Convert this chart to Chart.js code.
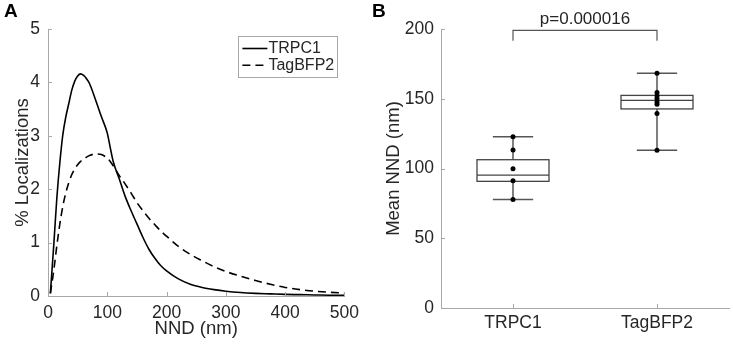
<!DOCTYPE html>
<html>
<head>
<meta charset="utf-8">
<script src="https://cdn.jsdelivr.net/npm/chart.js@4/dist/chart.umd.min.js"></script>
<style>
  html, body { margin: 0; padding: 0; background: #fff; }
  #wrap { position: relative; width: 733px; height: 348px; overflow: hidden; }
  .panel { position: absolute; top: 0; height: 348px; }
  .letter { position: absolute; top: 0px; font: bold 19px "Liberation Sans", Arial, sans-serif; color: #000; }
</style>
</head>
<body>
<div id="wrap">
  <div class="panel" style="left:0;width:366px"><canvas id="cA" width="366" height="348"></canvas></div>
  <div class="panel" style="left:366px;width:367px"><canvas id="cB" width="367" height="348"></canvas></div>
  <div class="letter" style="left:4px">A</div>
  <div class="letter" style="left:372px">B</div>
</div>
<script>
// ---------- Panel A data ----------
const nnd = [4,10,15,20,25,30,35,40,45,50,55,60,65,70,80,90,100,105,110,120,130,140,150,160,170,180,190,200,220,240,260,280,300,325,350,375,400,425,450,475,500];
const trpc1Curve = [0.05,1.0,1.85,2.5,3.02,3.35,3.6,3.85,4.02,4.12,4.16,4.13,4.07,3.98,3.68,3.36,3.05,2.78,2.52,2.2,1.87,1.6,1.35,1.1,0.88,0.71,0.57,0.47,0.32,0.22,0.16,0.12,0.09,0.065,0.05,0.04,0.03,0.025,0.02,0.015,0.012];
const tagCurve = [0.05,0.5,0.95,1.35,1.68,1.93,2.12,2.27,2.38,2.46,2.52,2.56,2.6,2.63,2.66,2.65,2.58,2.52,2.44,2.26,2.1,1.93,1.75,1.6,1.46,1.34,1.22,1.12,0.93,0.78,0.66,0.55,0.46,0.37,0.29,0.22,0.16,0.12,0.09,0.07,0.055];
const seriesNames = ['TRPC1', 'TagBFP2'];

// ---------- Panel B data ----------
const categories = ['TRPC1', 'TagBFP2'];
const trpc1Means = [122.8, 113.3, 99.9, 91.3, 77.7];
const tagMeans = [168.2, 154.4, 152.2, 150.1, 147.7, 146.0, 139.5, 113.0];
const boxMin = [77.7, 113.0];
const boxQ1 = [90.8, 142.7];
const boxMedian = [95.3, 148.9];
const boxQ3 = [106.3, 152.4];
const boxMax = [122.8, 168.2];
const pValueText = 'p=0.000016';

const FONT = '"Liberation Sans", Arial, Helvetica, sans-serif';
const AXIS = '#a8a8a8';
const TXT = '#262626';

function inwardTicks(chart, len) {
  const ctx = chart.ctx;
  ctx.save();
  ctx.strokeStyle = AXIS;
  ctx.lineWidth = 1;
  const xs = chart.scales.x, ys = chart.scales.y;
  ctx.beginPath();
  xs.ticks.forEach(t => {
    const px = Math.round(xs.getPixelForValue(t.value)) + 0.5;
    ctx.moveTo(px, xs.top); ctx.lineTo(px, xs.top - len);
  });
  ys.ticks.forEach(t => {
    const py = Math.round(ys.getPixelForValue(t.value)) + 0.5;
    ctx.moveTo(ys.right, py); ctx.lineTo(ys.right + len, py);
  });
  ctx.stroke();
  ctx.restore();
}

const legendPlugin = {
  id: 'legendA',
  afterDraw(chart) {
    inwardTicks(chart, 4);
    const ctx = chart.ctx, a = chart.chartArea;
    const right = a.right - 7, top = a.top + 7;
    const w = 99, h = 41;
    ctx.save();
    ctx.fillStyle = '#fff';
    ctx.strokeStyle = AXIS;
    ctx.lineWidth = 1;
    ctx.fillRect(right - w, top, w, h);
    ctx.strokeRect(Math.round(right - w) + 0.5, Math.round(top) + 0.5, w, h);
    chart.data.datasets.forEach((ds, i) => {
      const y = top + 12.5 + i * 16.8;
      ctx.beginPath();
      ctx.setLineDash(ds.borderDash || []);
      ctx.strokeStyle = ds.borderColor;
      ctx.lineWidth = ds.borderWidth;
      ctx.moveTo(right - w + 4, y); ctx.lineTo(right - w + 29, y);
      ctx.stroke();
      ctx.setLineDash([]);
      ctx.fillStyle = TXT;
      ctx.font = '16px ' + FONT;
      ctx.textBaseline = 'middle';
      ctx.textAlign = 'left';
      ctx.fillText(ds.label, right - w + 30, y);
    });
    ctx.restore();
  }
};

new Chart(document.getElementById('cA'), {
  type: 'line',
  data: {
    datasets: [
      { label: seriesNames[0], data: nnd.map((x, i) => ({ x, y: trpc1Curve[i] })),
        borderColor: '#000', borderWidth: 1.6, pointRadius: 0, cubicInterpolationMode: 'monotone', fill: false },
      { label: seriesNames[1], data: nnd.map((x, i) => ({ x, y: tagCurve[i] })),
        borderColor: '#000', borderWidth: 1.6, borderDash: [8, 5], pointRadius: 0, cubicInterpolationMode: 'monotone', fill: false }
    ]
  },
  options: {
    responsive: false, animation: false,
    layout: { padding: { top: 29, right: 21, left: 0, bottom: 0 } },
    plugins: { legend: { display: false }, tooltip: { enabled: false } },
    scales: {
      x: {
        type: 'linear', min: 0, max: 500,
        afterFit(s) { s.height = 52; },
        grid: { display: true, drawOnChartArea: false, drawTicks: false },
        border: { display: true, color: AXIS, width: 1 },
        ticks: { stepSize: 100, color: TXT, font: { family: FONT, size: 17.5 }, padding: 7, maxRotation: 0 },
        title: { display: true, text: 'NND (nm)', color: TXT, font: { family: FONT, size: 18.5 }, padding: { top: 0, bottom: 8 } }
      },
      y: {
        min: 0, max: 5,
        afterFit(s) { s.width = 48; },
        grid: { display: true, drawOnChartArea: false, drawTicks: false },
        border: { display: true, color: AXIS, width: 1 },
        ticks: { stepSize: 1, color: TXT, font: { family: FONT, size: 17.5 }, padding: 8 },
        title: { display: true, text: '% Localizations', color: TXT, font: { family: FONT, size: 18.5 }, padding: { top: 11.5, bottom: 0 } }
      }
    }
  },
  plugins: [legendPlugin]
});

const boxPlugin = {
  id: 'boxB',
  beforeDatasetsDraw(chart) {
    const ctx = chart.ctx, xs = chart.scales.x, ys = chart.scales.y;
    ctx.save();
    categories.forEach((c, i) => {
      const xc = xs.getPixelForValue(i + 1);
      const hw = xs.getPixelForValue(i + 1.25) - xc;
      const cw = xs.getPixelForValue(i + 1.14) - xc;
      const yMin = ys.getPixelForValue(boxMin[i]), yMax = ys.getPixelForValue(boxMax[i]);
      const yQ1 = ys.getPixelForValue(boxQ1[i]), yQ3 = ys.getPixelForValue(boxQ3[i]);
      const yMed = ys.getPixelForValue(boxMedian[i]);
      ctx.strokeStyle = '#555';
      ctx.lineWidth = 1.5;
      ctx.beginPath();
      ctx.moveTo(xc, yMax); ctx.lineTo(xc, yQ3);
      ctx.moveTo(xc, yQ1); ctx.lineTo(xc, yMin);
      ctx.moveTo(xc - cw, yMax); ctx.lineTo(xc + cw, yMax);
      ctx.moveTo(xc - cw, yMin); ctx.lineTo(xc + cw, yMin);
      ctx.stroke();
      ctx.fillStyle = '#fff';
      ctx.fillRect(xc - hw, yQ3, 2 * hw, yQ1 - yQ3);
      ctx.strokeStyle = '#444';
      ctx.lineWidth = 1.3;
      ctx.strokeRect(xc - hw, yQ3, 2 * hw, yQ1 - yQ3);
      ctx.beginPath();
      ctx.moveTo(xc - hw, yMed); ctx.lineTo(xc + hw, yMed);
      ctx.stroke();
    });
    ctx.restore();
  },
  afterDraw(chart) {
    inwardTicks(chart, 4);
    const ctx = chart.ctx, xs = chart.scales.x, ys = chart.scales.y;
    const x1 = xs.getPixelForValue(1), x2 = xs.getPixelForValue(2);
    const yTop = ys.getPixelForValue(199), yBot = ys.getPixelForValue(191.5);
    ctx.save();
    ctx.strokeStyle = '#555';
    ctx.lineWidth = 1.2;
    ctx.beginPath();
    ctx.moveTo(x1, yBot); ctx.lineTo(x1, yTop); ctx.lineTo(x2, yTop); ctx.lineTo(x2, yBot);
    ctx.stroke();
    ctx.fillStyle = TXT;
    ctx.font = '17px ' + FONT;
    ctx.textAlign = 'center';
    ctx.textBaseline = 'middle';
    ctx.fillText(pValueText, (x1 + x2) / 2, yTop - 11);
    ctx.restore();
  }
};

new Chart(document.getElementById('cB'), {
  type: 'scatter',
  data: {
    datasets: [
      { label: categories[0], data: trpc1Means.map(v => ({ x: 1, y: v })), backgroundColor: '#000', borderColor: '#000', pointRadius: 2.5, borderWidth: 0 },
      { label: categories[1], data: tagMeans.map(v => ({ x: 2, y: v })), backgroundColor: '#000', borderColor: '#000', pointRadius: 2.5, borderWidth: 0 }
    ]
  },
  options: {
    responsive: false, animation: false,
    layout: { padding: { top: 29, right: 1, left: 0, bottom: 0 } },
    plugins: { legend: { display: false }, tooltip: { enabled: false } },
    scales: {
      x: {
        type: 'linear', min: 0.5, max: 2.5,
        afterFit(s) { s.height = 40; },
        afterBuildTicks(s) { s.ticks = categories.map((c, i) => ({ value: i + 1 })); },
        grid: { display: true, drawOnChartArea: false, drawTicks: false },
        border: { display: true, color: AXIS, width: 1 },
        ticks: { color: TXT, font: { family: FONT, size: 17.5 }, padding: 5, maxRotation: 0,
                 callback: v => categories[Math.round(v) - 1] || '' }
      },
      y: {
        min: 0, max: 200,
        afterFit(s) { s.width = 75; },
        grid: { display: true, drawOnChartArea: false, drawTicks: false },
        border: { display: true, color: AXIS, width: 1 },
        ticks: { stepSize: 50, color: TXT, font: { family: FONT, size: 17.5 }, padding: 7 },
        title: { display: true, text: 'Mean NND (nm)', color: TXT, font: { family: FONT, size: 18.5 }, padding: { top: 17, bottom: 0 } }
      }
    }
  },
  plugins: [boxPlugin]
});
</script>
</body>
</html>
